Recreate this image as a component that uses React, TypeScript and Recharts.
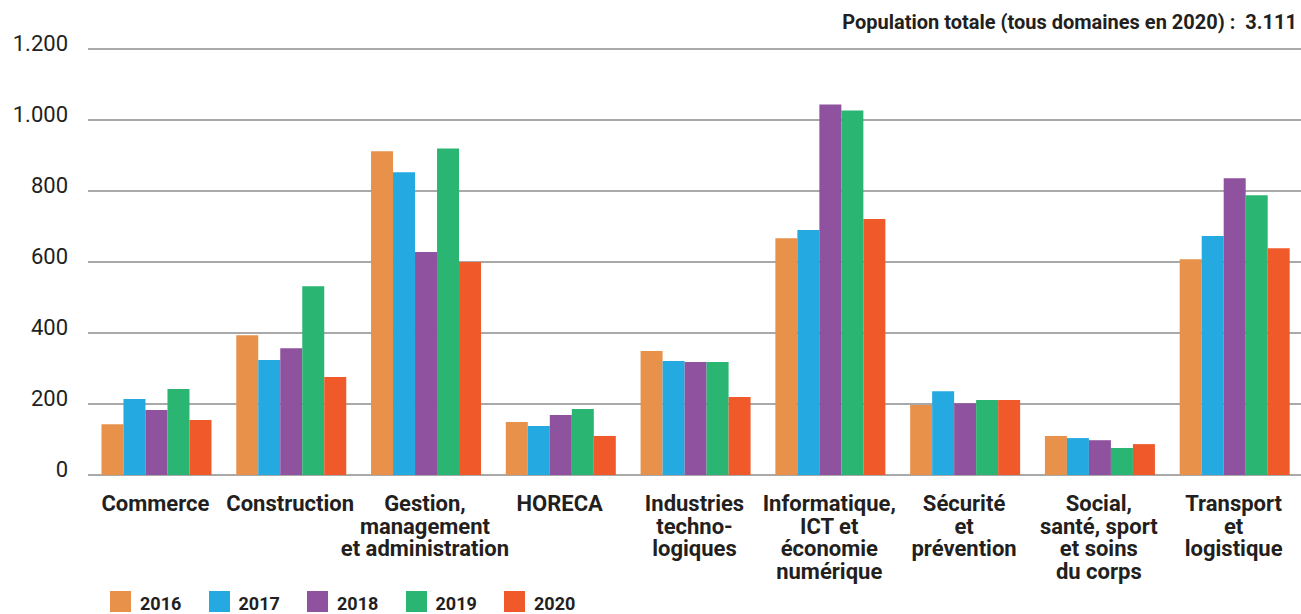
import { BarChart, Bar, XAxis, YAxis, CartesianGrid } from "recharts";

const categories = [
  "Commerce",
  "Construction",
  "Gestion,\nmanagement\net administration",
  "HORECA",
  "Industries\ntechno-\nlogiques",
  "Informatique,\nICT et\néconomie\nnumérique",
  "Sécurité\net\nprévention",
  "Social,\nsanté, sport\net soins\ndu corps",
  "Transport\net\nlogistique",
];

const values2016 = [143, 394, 912, 149, 349, 667, 197, 110, 608];
const values2017 = [214, 324, 853, 138, 321, 690, 236, 104, 673];
const values2018 = [183, 357, 628, 169, 318, 1044, 202, 98, 836];
const values2019 = [242, 532, 920, 186, 318, 1027, 211, 76, 788];
const values2020 = [155, 276, 600, 110, 220, 721, 211, 87, 639];

const years = ["2016", "2017", "2018", "2019", "2020"];
const colors = ["#E8914A", "#24A9E1", "#8E529F", "#2AB573", "#F05A2B"];
const yTicks = [0, 200, 400, 600, 800, 1000, 1200];

const data = categories.map((name, i) => ({
  name,
  y2016: values2016[i],
  y2017: values2017[i],
  y2018: values2018[i],
  y2019: values2019[i],
  y2020: values2020[i],
}));

const textColor = "#231f20";
const font = "Roboto, sans-serif";

const formatThousands = (v: number) =>
  String(v).replace(/\B(?=(\d{3})+(?!\d))/g, ".");

const YTick = ({ x, y, payload }: any) => (
  <text
    x={x}
    y={y + 2}
    textAnchor="end"
    fill={textColor}
    fontFamily={font}
    fontSize={22}
  >
    {formatThousands(payload.value)}
  </text>
);

const XTick = ({ x, y, payload }: any) => {
  const lines = String(payload.value).split("\n");
  return (
    <text
      x={x}
      y={y}
      textAnchor="middle"
      fill={textColor}
      fontFamily={font}
      fontSize={22}
      fontWeight={700}
    >
      {lines.map((line, i) => (
        <tspan key={i} x={x} y={y + 36 + i * 22.5}>
          {line}
        </tspan>
      ))}
    </text>
  );
};

export default function App() {
  return (
    <div
      style={{
        position: "absolute",
        left: 0,
        top: 0,
        width: 1301,
        height: 614,
        background: "#fff",
        overflow: "hidden",
        fontFamily: font,
      }}
    >
      <div
        style={{
          position: "absolute",
          right: 4,
          top: 12,
          fontSize: 20,
          lineHeight: "20px",
          fontWeight: 700,
          color: textColor,
          whiteSpace: "pre",
        }}
      >
        {"Population totale (tous domaines en 2020) :  3.111"}
      </div>

      <BarChart
        width={1301}
        height={614}
        data={data}
        margin={{ top: 49, right: 0, bottom: 0, left: 0 }}
        barGap={0}
        barCategoryGap="10%"
      >
        <CartesianGrid vertical={false} stroke="#555" strokeWidth={1.2} />
        <XAxis
          dataKey="name"
          axisLine={false}
          tickLine={false}
          tickSize={0}
          tickMargin={0}
          height={139}
          interval={0}
          tick={<XTick />}
        />
        <YAxis
          domain={[0, 1200]}
          ticks={yTicks}
          width={88}
          axisLine={false}
          tickLine={false}
          tickSize={0}
          tickMargin={20}
          tick={<YTick />}
        />
        {years.map((yr, i) => (
          <Bar
            key={yr}
            dataKey={`y${yr}`}
            fill={colors[i]}
            isAnimationActive={false}
          />
        ))}
      </BarChart>

      {years.map((yr, i) => (
        <div
          key={yr}
          style={{
            position: "absolute",
            left: 110 + i * 98.5,
            top: 591,
            display: "flex",
            alignItems: "flex-start",
          }}
        >
          <div style={{ width: 21, height: 21, background: colors[i] }} />
          <div
            style={{
              marginLeft: 9,
              marginTop: 4,
              fontSize: 18,
              lineHeight: "18px",
              fontWeight: 700,
              color: textColor,
            }}
          >
            {yr}
          </div>
        </div>
      ))}
    </div>
  );
}
